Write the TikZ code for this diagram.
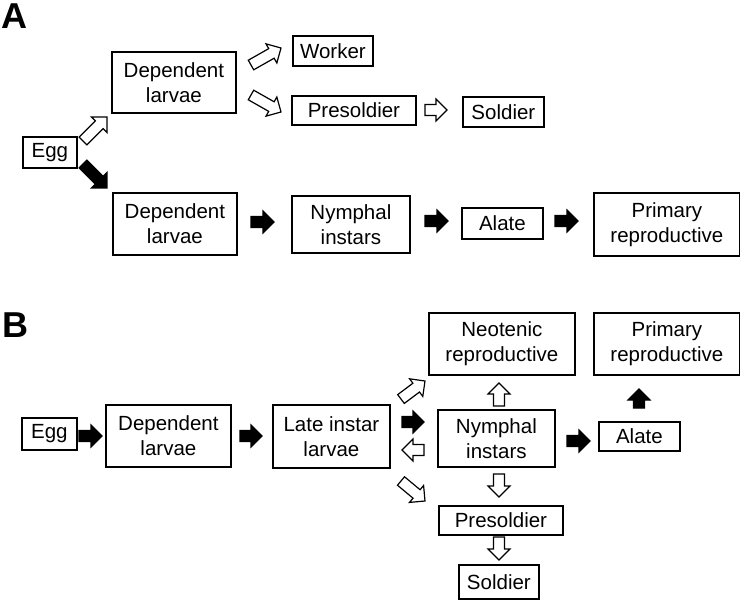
\documentclass[tikz,border=0pt]{standalone}
\usepackage{fontspec}
\setmainfont{Liberation Sans}
\usetikzlibrary{calc}

\tikzset{
  box/.style={draw, line width=1.8pt, inner sep=0pt, align=center, anchor=north west,
    font=\fontsize{20.5}{25}\selectfont},
  hollowarr/.style={draw=black, fill=white, line width=1.2pt, line join=miter},
  solidarr/.style={draw=black, fill=black, line width=1.2pt, line join=miter},
  panel/.style={font=\fontsize{36}{36}\selectfont\bfseries, inner sep=0pt, anchor=north west},
}

% block arrow: #1 style, #2 tail coordinate, #3 tip coordinate
\newcommand\blk[3]{%
  \draw[#1] let \p1=($(#3)-(#2)$), \n1={atan2(\y1,\x1)}, \n2={veclen(\x1,\y1)},
      \n3={\n2-11pt} in
    ([shift={(#2)},rotate=\n1]0pt,5.5pt)
    -- ([shift={(#2)},rotate=\n1]\n3,5.5pt)
    -- ([shift={(#2)},rotate=\n1]\n3,11pt)
    -- ([shift={(#2)},rotate=\n1]\n2,0pt)
    -- ([shift={(#2)},rotate=\n1]\n3,-11pt)
    -- ([shift={(#2)},rotate=\n1]\n3,-5.5pt)
    -- ([shift={(#2)},rotate=\n1]0pt,-5.5pt) -- cycle;}

\begin{document}
\begin{tikzpicture}[x=1pt, y=-1pt]
\useasboundingbox (0,0) rectangle (740,600);

% ---------- Panel A ----------
\node[panel] (labA) at (1,4) {A};
\node[box, minimum width=54pt, minimum height=31pt] (eggA) at (22,136) {Egg};
\node[box, minimum width=124pt, minimum height=61pt] (depA1) at (111,51) {Dependent\\larvae};
\node[box, minimum width=80pt, minimum height=30pt] (workA) at (292,35) {Worker};
\node[box, minimum width=124pt, minimum height=29pt] (presA) at (291,95) {Presoldier};
\node[box, minimum width=81pt, minimum height=30pt] (soldA) at (462,96) {Soldier};
\node[box, minimum width=124pt, minimum height=62pt] (depA2) at (112,192) {Dependent\\larvae};
\node[box, minimum width=118pt, minimum height=57pt] (nymA) at (291,195) {Nymphal\\instars};
\node[box, minimum width=81pt, minimum height=31pt] (alaA) at (461,207) {Alate};
\node[box, minimum width=146pt, minimum height=63pt] (primA) at (593,192) {Primary\\reproductive};

\coordinate (a1s) at (83,141);  \coordinate (a1e) at (107,117);
\coordinate (a2s) at (83,164);  \coordinate (a2e) at (107,188);
\coordinate (a3s) at (251,65);  \coordinate (a3e) at (281,48);
\coordinate (a4s) at (251,95);  \coordinate (a4e) at (281,112);
\coordinate (a5s) at (425,110); \coordinate (a5e) at (447,110);
\coordinate (a6s) at (251,222); \coordinate (a6e) at (274,222);
\coordinate (a7s) at (425,221); \coordinate (a7e) at (448,221);
\coordinate (a8s) at (555,221); \coordinate (a8e) at (578,221);

\blk{hollowarr}{a1s}{a1e}
\blk{solidarr}{a2s}{a2e}
\blk{hollowarr}{a3s}{a3e}
\blk{hollowarr}{a4s}{a4e}
\blk{hollowarr}{a5s}{a5e}
\blk{solidarr}{a6s}{a6e}
\blk{solidarr}{a7s}{a7e}
\blk{solidarr}{a8s}{a8e}

% ---------- Panel B ----------
\node[panel] (labB) at (2,313) {B};
\node[box, minimum width=55pt, minimum height=32pt] (eggB) at (21,417) {Egg};
\node[box, minimum width=125pt, minimum height=62pt] (depB) at (105,404) {Dependent\\larvae};
\node[box, minimum width=117pt, minimum height=63pt] (lateB) at (272,404) {Late instar\\larvae};
\node[box, minimum width=146pt, minimum height=62pt] (neoB) at (428,312) {Neotenic\\reproductive};
\node[box, minimum width=146pt, minimum height=62pt] (primB) at (593,312) {Primary\\reproductive};
\node[box, minimum width=117pt, minimum height=57pt] (nymB) at (437,409) {Nymphal\\instars};
\node[box, minimum width=81pt, minimum height=29pt] (alaB) at (598,421) {Alate};
\node[box, minimum width=124pt, minimum height=29pt] (presB) at (438,505) {Presoldier};
\node[box, minimum width=80pt, minimum height=34pt] (soldB) at (458,564) {Soldier};

\coordinate (b1s) at (79,436);   \coordinate (b1e) at (102,436);
\coordinate (b2s) at (240,436);  \coordinate (b2e) at (262,436);
\coordinate (b3s) at (401,399);  \coordinate (b3e) at (425,381);
\coordinate (b4s) at (402,422);  \coordinate (b4e) at (424,422);
\coordinate (b5s) at (424,450);  \coordinate (b5e) at (402,450);
\coordinate (b6s) at (401,481);  \coordinate (b6e) at (425,501);
\coordinate (b7s) at (499,406);  \coordinate (b7e) at (499,383);
\coordinate (b8s) at (499,474);  \coordinate (b8e) at (499,497);
\coordinate (b9s) at (499,537);  \coordinate (b9e) at (499,560);
\coordinate (b10s) at (567,441); \coordinate (b10e) at (590,441);
\coordinate (b11s) at (639,408); \coordinate (b11e) at (639,389);

\blk{solidarr}{b1s}{b1e}
\blk{solidarr}{b2s}{b2e}
\blk{hollowarr}{b3s}{b3e}
\blk{solidarr}{b4s}{b4e}
\blk{hollowarr}{b5s}{b5e}
\blk{hollowarr}{b6s}{b6e}
\blk{hollowarr}{b7s}{b7e}
\blk{hollowarr}{b8s}{b8e}
\blk{hollowarr}{b9s}{b9e}
\blk{solidarr}{b10s}{b10e}
\blk{solidarr}{b11s}{b11e}
\end{tikzpicture}
\end{document}
